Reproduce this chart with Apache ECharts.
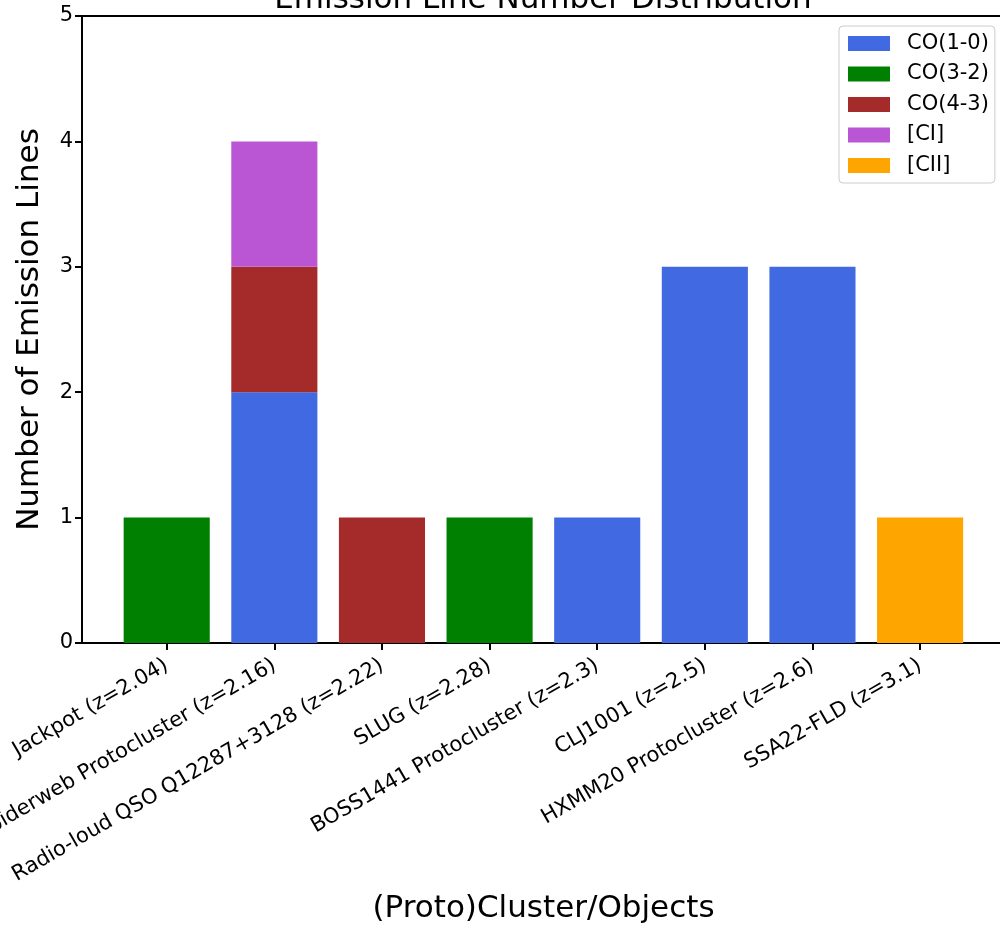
<!DOCTYPE html>
<html>
<head>
<meta charset="utf-8">
<script src="https://cdn.jsdelivr.net/npm/echarts@6/dist/echarts.min.js"></script>
<style>html,body{margin:0;padding:0;background:#fff}#c{width:1000px;height:926px}</style>
</head>
<body>
<div id="c"></div>
<script>
const categories = ['Jackpot (z=2.04)', 'Spiderweb Protocluster (z=2.16)', 'Radio-loud QSO Q12287+3128 (z=2.22)', 'SLUG (z=2.28)', 'BOSS1441 Protocluster (z=2.3)', 'CLJ1001 (z=2.5)', 'HXMM20 Protocluster (z=2.6)', 'SSA22-FLD (z=3.1)'];
const seriesNames = ['CO(1-0)', 'CO(3-2)', 'CO(4-3)', '[CI]', '[CII]'];
const co10 = [0, 2, 0, 0, 1, 3, 3, 0];
const co32 = [1, 0, 0, 1, 0, 0, 0, 0];
const co43 = [0, 1, 1, 0, 0, 0, 0, 0];
const ci   = [0, 1, 0, 0, 0, 0, 0, 0];
const cii  = [0, 0, 0, 0, 0, 0, 0, 1];
const yTicks = [0, 1, 2, 3, 4, 5];
const colors = ['#4169E1', '#008000', '#A52A2A', '#BA55D3', '#FFA500'];
const values = [co10, co32, co43, ci, cii];

const FONT = 'DejaVu Sans';
const chart = echarts.init(document.getElementById('c'), null, {renderer: 'canvas'});
const spine = {show: true, onZero: false, lineStyle: {color: '#000', width: 2}};
const option = {
  animation: false,
  backgroundColor: '#fff',
  textStyle: {fontFamily: FONT},
  graphic: [{
    type: 'text', x: 543, y: 15, z: 100,
    style: {text: 'Emission Line Number Distribution', fontSize: 31, fontFamily: FONT, fill: '#000', textAlign: 'center', textVerticalAlign: 'bottom'}
  }],
  legend: {
    orient: 'vertical', left: 839, top: 26,
    padding: [7, 6, 7, 9], itemGap: 9.5, itemWidth: 42, itemHeight: 15,
    borderColor: '#cccccc', borderWidth: 1, borderRadius: 4, backgroundColor: '#fff',
    icon: 'rect',
    textStyle: {fontSize: 21, fontFamily: FONT, color: '#000', padding: [0, 0, 0, 12]},
    data: seriesNames
  },
  grid: [
    {left: 82, right: -5, top: 16, bottom: 283, containLabel: false, outerBoundsMode: 'none'},
    {left: 112.9, width: 861, top: 16, bottom: 283, containLabel: false, outerBoundsMode: 'none'}
  ],
  xAxis: [
    {gridIndex: 0, type: 'value', min: 0, max: 1, axisLine: spine, axisTick: {show: false}, axisLabel: {show: false}, splitLine: {show: false},
     name: '(Proto)Cluster/Objects', nameLocation: 'middle', nameGap: 250, nameTextStyle: {fontSize: 31, fontFamily: FONT, color: '#000'}},
    {gridIndex: 0, type: 'value', position: 'top', min: 0, max: 1, axisLine: spine, axisTick: {show: false}, axisLabel: {show: false}, splitLine: {show: false}},
    {gridIndex: 1, type: 'category', data: categories, axisLine: {show: false},
     axisTick: {show: true, alignWithLabel: true, length: 7, lineStyle: {color: '#000', width: 2}},
     axisLabel: {rotate: 30, fontSize: 21, fontFamily: FONT, color: '#000', margin: 21, interval: 0}}
  ],
  yAxis: [
    {gridIndex: 0, type: 'value', min: 0, max: 5, interval: 1, axisLine: spine,
     axisTick: {show: true, length: 7, lineStyle: {color: '#000', width: 2}},
     axisLabel: {fontSize: 21, fontFamily: FONT, color: '#000', margin: 9, formatter: v => yTicks.includes(v) ? String(v) : ''},
     splitLine: {show: false},
     name: 'Number of Emission Lines', nameLocation: 'middle', nameGap: 37, nameTextStyle: {fontSize: 31, fontFamily: FONT, color: '#000'}},
    {gridIndex: 1, type: 'value', min: 0, max: 5, show: false, splitLine: {show: false}}
  ],
  series: seriesNames.map((n, i) => ({
    name: n, type: 'bar', stack: 'total', xAxisIndex: 2, yAxisIndex: 1,
    barWidth: '80%', itemStyle: {color: colors[i]}, data: values[i]
  }))
};
chart.setOption(option);
</script>
</body>
</html>
